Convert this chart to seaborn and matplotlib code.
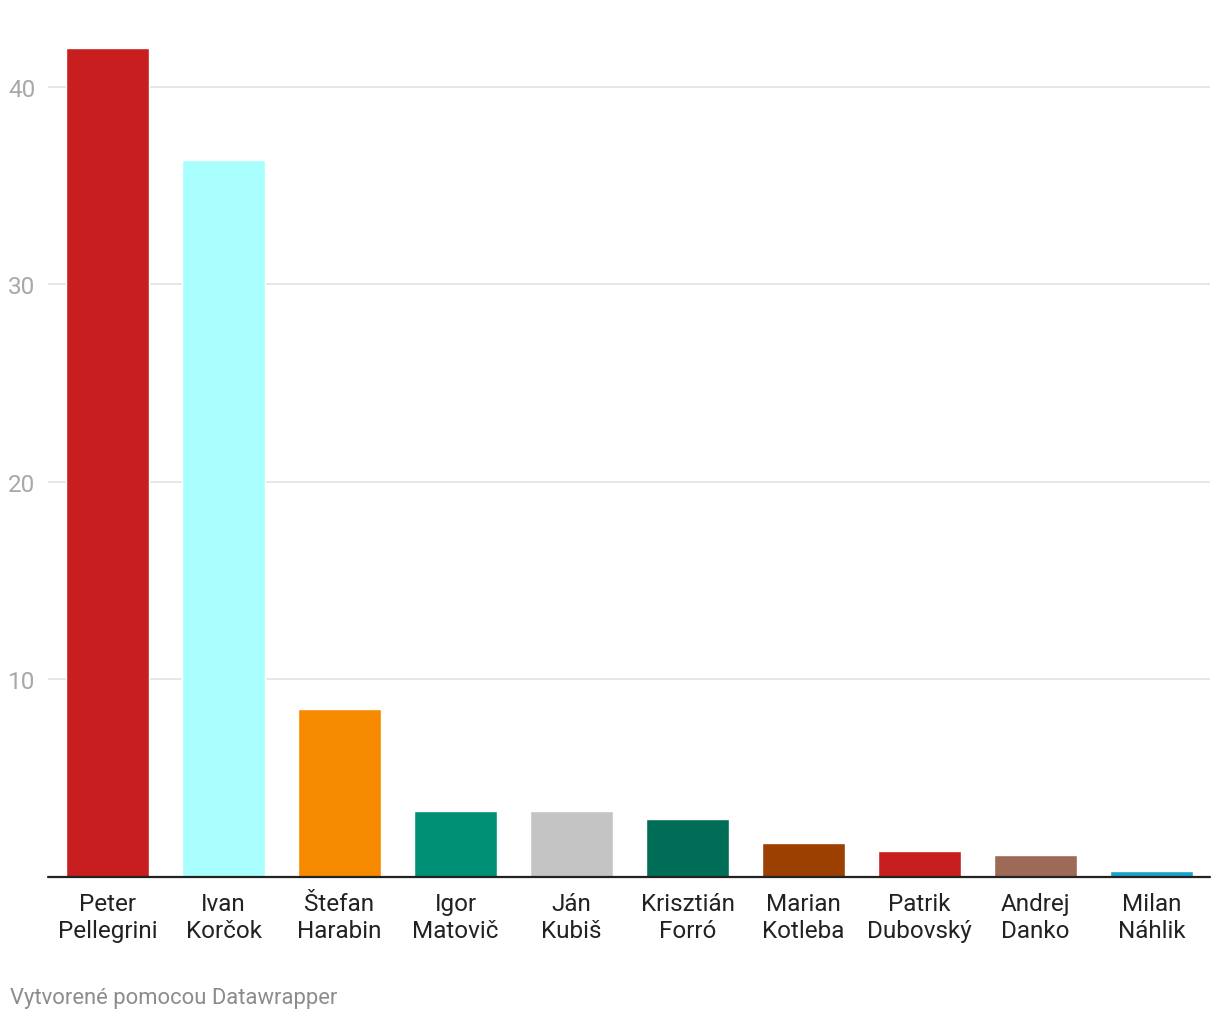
import matplotlib
matplotlib.use("Agg")
import matplotlib.pyplot as plt
import seaborn as sns
import pandas as pd

candidates = ["Peter\nPellegrini", "Ivan\nKorčok", "Štefan\nHarabin", "Igor\nMatovič",
              "Ján\nKubiš", "Krisztián\nForró", "Marian\nKotleba", "Patrik\nDubovský",
              "Andrej\nDanko", "Milan\nNáhlik"]
values = [42.0, 36.3, 8.5, 3.3, 3.3, 2.9, 1.7, 1.3, 1.1, 0.3]
colors = ["#c91e1f", "#a9fffe", "#f78b00", "#009075", "#c4c4c4",
          "#006e57", "#9b4000", "#c71f1f", "#9e6a58", "#18a1cd"]
yticks = [10, 20, 30, 40]
footer = "Vytvorené pomocou Datawrapper"

sns.set_theme(style="white")
plt.rcParams['font.family'] = ['Roboto', 'DejaVu Sans']

df = pd.DataFrame({"cand": candidates, "val": values})

fig = plt.figure(figsize=(12.2, 10.2), dpi=100)
ax = fig.add_axes([48 / 1220, (1020 - 877.5) / 1020, (1210 - 48) / 1220, (877.5 - 48.5) / 1020])

sns.barplot(data=df, x="cand", y="val", hue="cand", palette=colors, legend=False,
            width=0.716, saturation=1, ax=ax, zorder=3)

ax.set_xlim(-0.513, 9.504)
ax.set_ylim(0, 42)
ax.set_yticks(yticks)
ax.set_yticklabels([str(t) for t in yticks])
for t in yticks:
    ax.axhline(t, color="#e3e3e3", lw=1.2, zorder=1)
ax.axhline(0, color="#222222", lw=1.6, zorder=4, clip_on=False)

for s in ax.spines.values():
    s.set_visible(False)

ax.tick_params(axis="y", length=0, pad=9, labelsize=17.5, labelcolor="#a8a8a8")
ax.tick_params(axis="x", length=0, pad=11, labelsize=17.5, labelcolor="#222222")
for lbl in ax.get_xticklabels():
    lbl.set_linespacing(1.22)
ax.set_xlabel("")
ax.set_ylabel("")

fig.text(10 / 1220, 1 - 999 / 1020, footer, fontsize=15.8, color="#8c8c8c",
         ha="left", va="center")

fig.savefig("out.png", dpi=100, facecolor="white")
